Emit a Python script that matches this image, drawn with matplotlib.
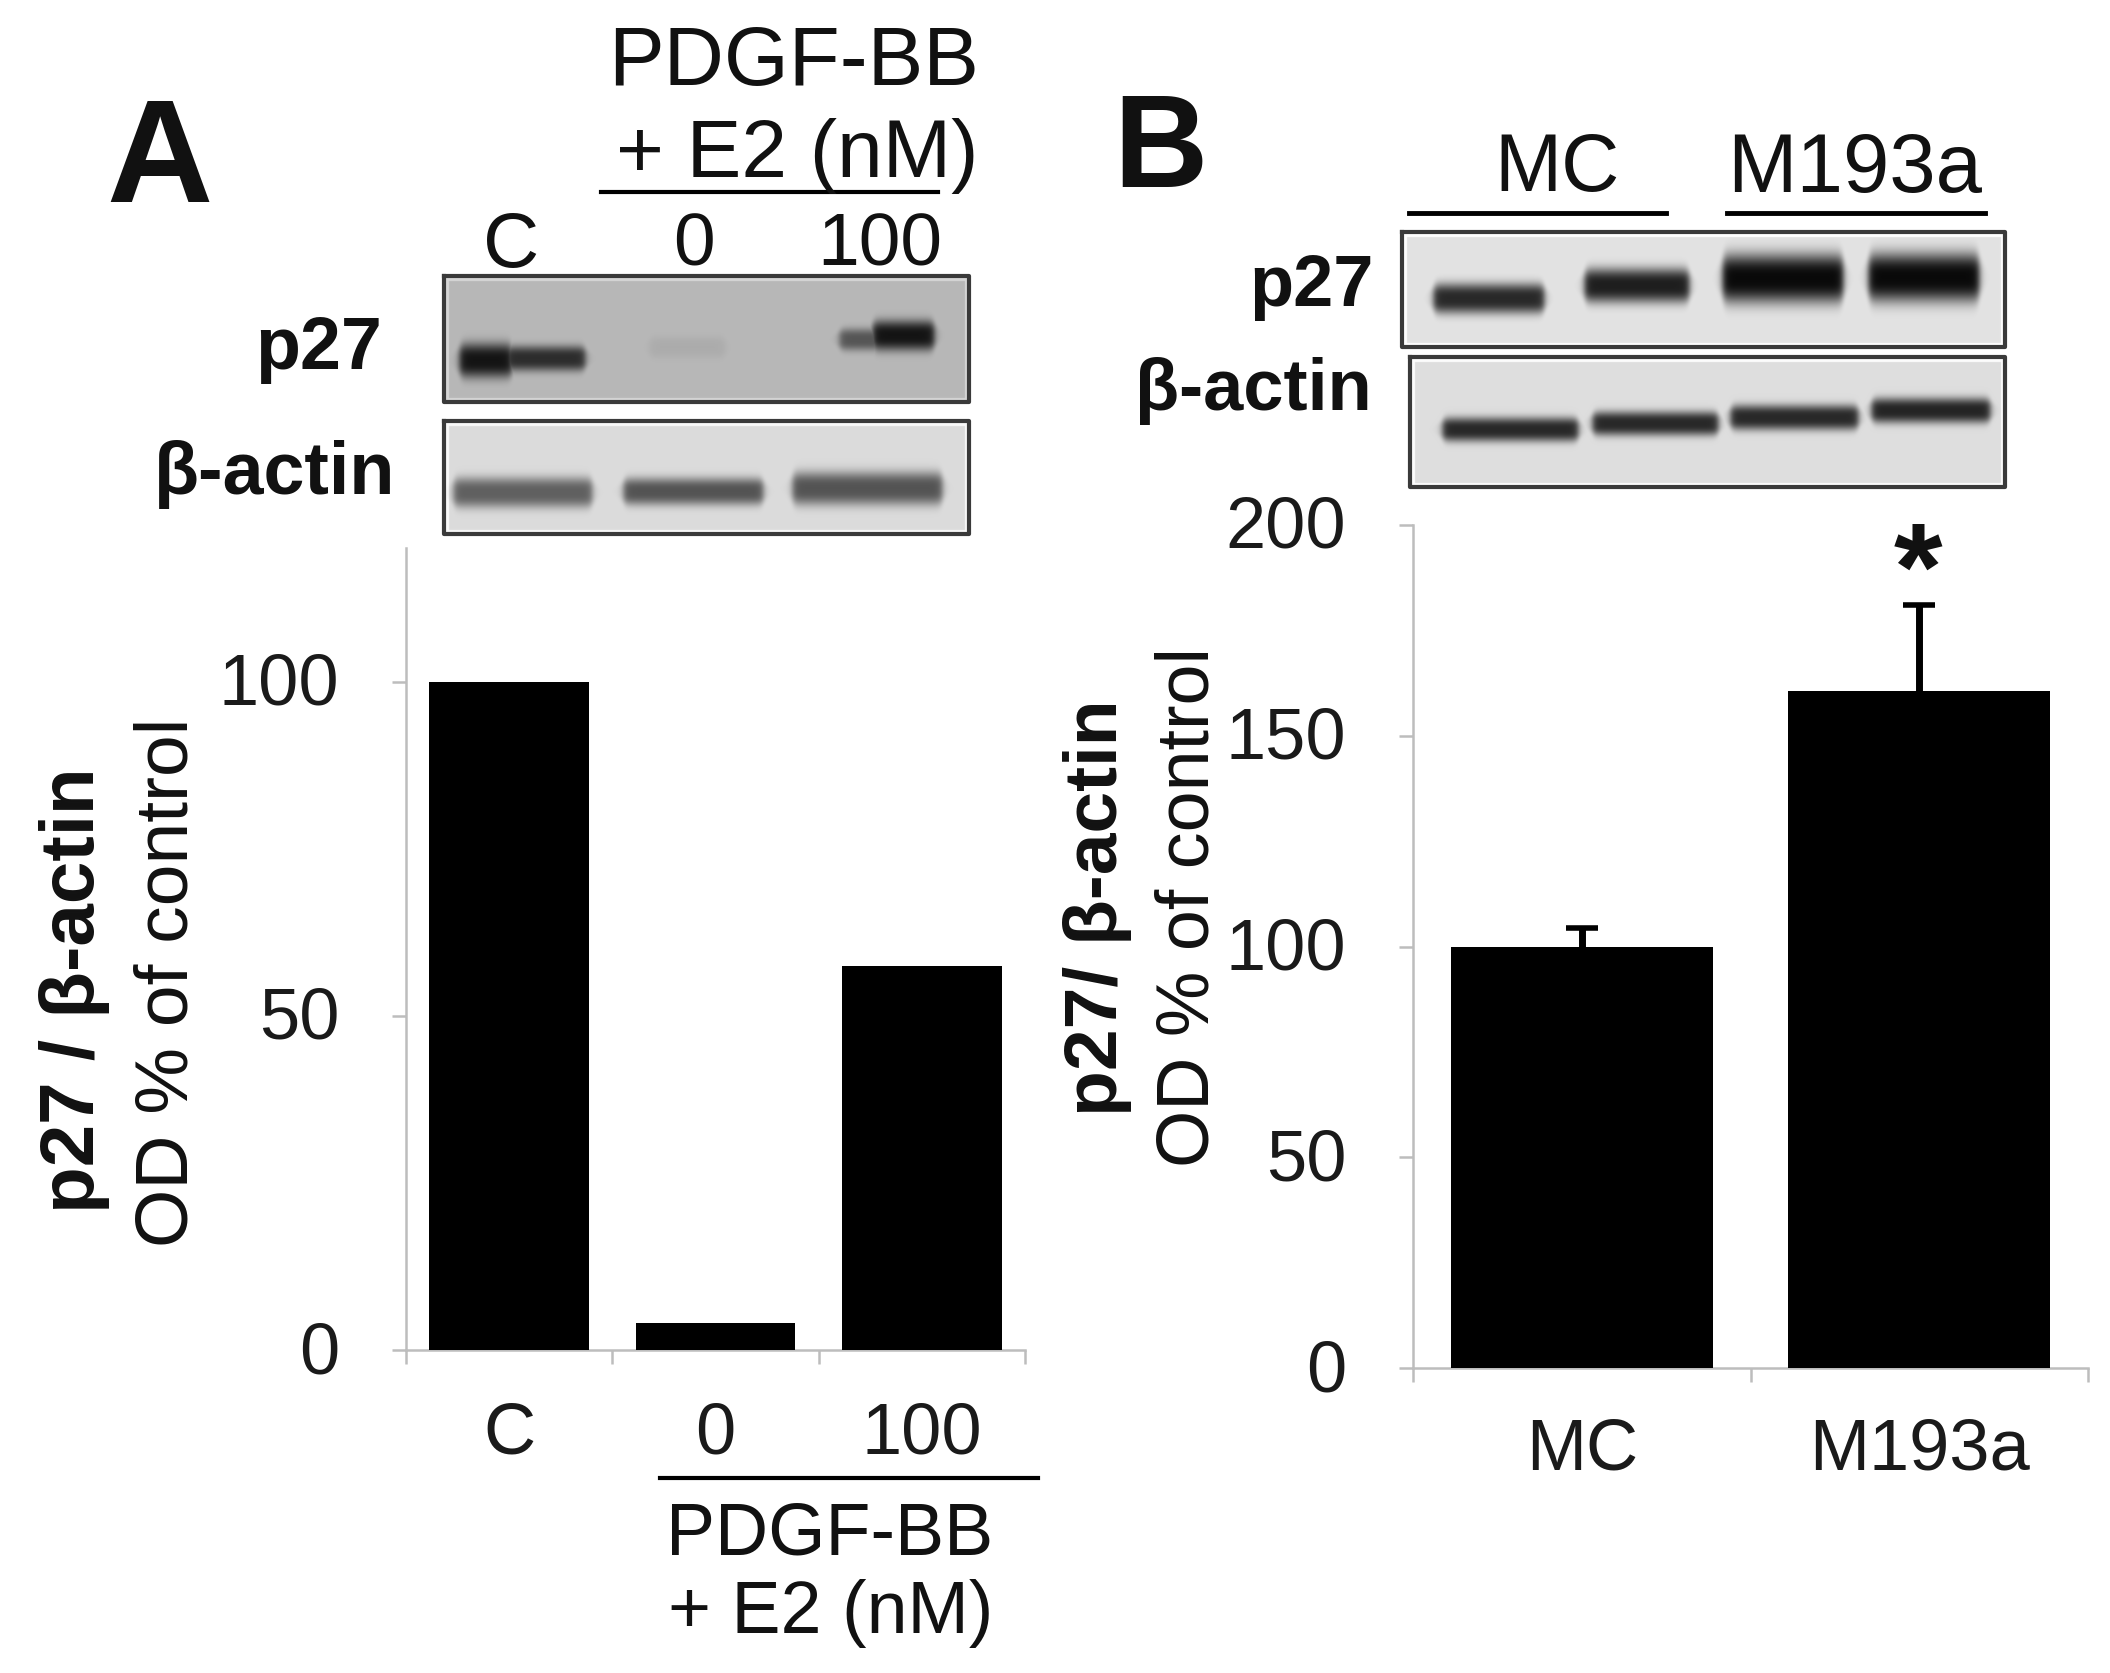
import numpy as np
import matplotlib
matplotlib.use("Agg")  # headless backend
import matplotlib.pyplot as plt
from matplotlib.transforms import ScaledTranslation

plt.rcParams["font.family"] = ["Liberation Sans", "DejaVu Sans"]

W, H = 2110, 1673

# bar values
cats_a = ["C", "0", "100"]
vals_a = [100, 4, 57.5]
cats_b = ["MC", "M193a"]
vals_b = [100, 160.5]
errs_b = [4.5, 20.5]
ticks_a = [0, 50, 100]
ticks_b = [0, 50, 100, 150, 200]

# blot bands: x0, x1, y, thickness, darkness (0-1), all in picture pixels
bands_p27_a = [(459, 512, 360, 34, 1.0), (505, 585, 358, 25, 0.85),
               (649, 725, 347, 22, 0.07), (839, 885, 339, 22, 0.6), (872, 934, 335, 30, 1.0)]
bands_act_a = [(453, 592, 492, 30, 0.62), (623, 763, 491, 27, 0.68), (792, 942, 488, 33, 0.68)]
bands_p27_b = [(1433, 1544, 298, 30, 0.9), (1584, 1689, 285, 34, 0.95),
               (1722, 1843, 278, 48, 1.05), (1868, 1979, 277, 48, 1.05)]
bands_act_b = [(1442, 1578, 429, 24, 0.9), (1592, 1718, 423, 24, 0.9),
               (1730, 1858, 417, 25, 0.9), (1871, 1990, 410, 25, 0.92)]


def px_axes(fig, left, right, top, bottom):
    return fig.add_axes([left / W, 1 - bottom / H, (right - left) / W, (bottom - top) / H])


def draw_blot(ov, box, back, bands):
    """Soft grey blot picture with a dark frame and a thin pale inner edge."""
    x0, x1, y0, y1 = box
    xx, yy = np.meshgrid(np.arange(x0, x1), np.arange(y0, y1))
    ink = np.zeros(xx.shape)
    for bx0, bx1, by, th, dark in bands:
        across = 0.5 * (np.tanh((xx - bx0) / 4) - np.tanh((xx - bx1) / 4))
        across = np.clip(across, 0, 1)
        # blunt rounded ends rather than points
        half = np.maximum(th / 2 * across ** 0.25, 1)
        along = np.exp(-np.abs((yy - by) / half) ** 3)
        ink = np.maximum(ink, dark * across * along)
    img = np.clip(back * (1 - ink) + 0.08 * ink, 0, 1)
    edge = 5
    inner = (xx < x0 + edge) | (xx > x1 - edge) | (yy < y0 + edge) | (yy > y1 - edge)
    img[inner] = np.minimum(1, img[inner] + 0.12)
    ov.imshow(img, extent=(x0, x1, y1, y0), cmap="gray", vmin=0, vmax=1, aspect="auto",
              interpolation="gaussian", zorder=1)
    ov.plot([x0, x1, x1, x0, x0], [y0, y0, y1, y1, y0], color="#3a3a3a", lw=3, zorder=2)


def bar_panel(ax, cats, vals, ticks, ymax, pad, errs=None):
    xpos = np.arange(len(cats))
    ax.bar(xpos, vals, width=0.775, color="black", zorder=3)
    if errs is not None:
        tops = np.array(vals) + np.array(errs)
        ax.vlines(xpos, vals, tops, color="black", lw=5, zorder=2)
        ax.plot(xpos, tops, ls="none", marker="_", ms=23, mew=4, color="black", zorder=2)
    ax.set_xlim(-0.5, len(cats) - 0.5)
    ax.set_ylim(0, ymax)
    ax.set_yticks(ticks)
    ax.set_xticks(xpos)
    ax.set_xticklabels(cats)
    ax.set_xticks(np.arange(len(cats) + 1) - 0.5, minor=True)
    ax.tick_params(axis="x", which="major", length=0, pad=pad, labelsize=52, labelcolor="#1a1a1a")
    ax.tick_params(axis="x", which="minor", length=10, width=1.8, color="#bdbdbd")
    ax.tick_params(axis="y", length=10, width=1.8, color="#bdbdbd", pad=38, labelsize=52,
                   labelcolor="#1a1a1a")
    # tick labels sit a little high in the original
    nudge = ScaledTranslation(0, 3 / 100, ax.figure.dpi_scale_trans)
    for lab in ax.get_yticklabels():
        lab.set_transform(lab.get_transform() + nudge)
    for side in ["top", "right"]:
        ax.spines[side].set_visible(False)
    for side in ["left", "bottom"]:
        ax.spines[side].set_color("#bdbdbd")
        ax.spines[side].set_linewidth(1.8)
    ax.patch.set_alpha(0)


fig = plt.figure(figsize=(W / 100, H / 100), dpi=100, facecolor="white")

# overlay in picture pixels for blots and free labels
ov = fig.add_axes([0, 0, 1, 1])
ov.set_xlim(0, W)
ov.set_ylim(H, 0)
ov.axis("off")

ax_a = px_axes(fig, 406, 1025, 548, 1350)
bar_panel(ax_a, cats_a, vals_a, ticks_a, 120, 37)
ax_b = px_axes(fig, 1413, 2088, 525, 1368)
bar_panel(ax_b, cats_b, vals_b, ticks_b, 200, 36, errs=errs_b)

draw_blot(ov, (444, 969, 276, 402), 0.72, bands_p27_a)
draw_blot(ov, (444, 969, 421, 534), 0.86, bands_act_a)
draw_blot(ov, (1402, 2005, 232, 347), 0.89, bands_p27_b)
draw_blot(ov, (1410, 2005, 357, 487), 0.87, bands_act_b)
ov.set_xlim(0, W)
ov.set_ylim(H, 0)


def label(x, y, s, size=52, weight="normal", rot=0):
    ov.text(x, y, s, fontsize=size, fontweight=weight, rotation=rot, ha="center", va="center",
            color="#111111")


# panel A
label(160, 164, "A", size=106, weight="bold")
label(794, 63, "PDGF-BB", size=60)
label(797, 156, "+ E2 (nM)", size=59)
label(511, 246, "C", size=56)
label(694, 246, "0", size=54)
label(880, 246, "100", size=54)
label(319, 349, "p27", size=53, weight="bold")
label(275, 474, "β-actin", size=53, weight="bold")
label(75, 990, "p27 / β-actin", size=55, weight="bold", rot=90)
label(168, 982, "OD % of control", size=54, rot=90)
label(830, 1535, "PDGF-BB", size=53)
label(831, 1614, "+ E2 (nM)", size=53)
ov.plot([601, 938], [192, 192], color="black", lw=3)
ov.plot([660, 1038], [1478, 1478], color="black", lw=3)

# panel B
label(1160, 152, "B", size=94, weight="bold")
label(1557, 170, "MC", size=58)
label(1855, 170, "M193a", size=60)
ov.plot([1409, 1666], [213, 213], color="black", lw=3.5)
ov.plot([1727, 1985], [213, 213], color="black", lw=3.5)
label(1311, 287, "p27", size=52, weight="bold")
label(1253, 391, "β-actin", size=52, weight="bold")
label(1097, 908, "p27/ β-actin", size=54, weight="bold", rot=90)
label(1189, 907, "OD % of control", size=53, rot=90)
label(1918, 578, "*", size=90, weight="bold")

fig.savefig("out.png", dpi=100, facecolor="white")
